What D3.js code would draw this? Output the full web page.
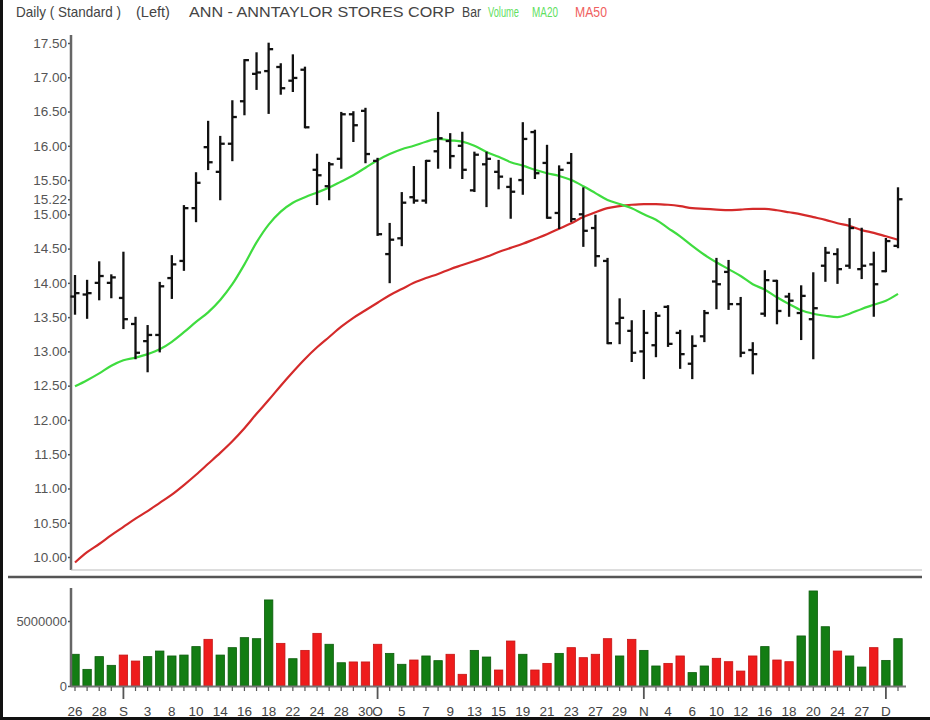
<!DOCTYPE html>
<html>
<head>
<meta charset="utf-8">
<script src="https://cdn.jsdelivr.net/npm/d3@7"></script>
<style>
    body { margin: 0; background: #fff; }
    text { font-family: "Liberation Sans", Arial, sans-serif; }
</style>
</head>
<body>
<div id="chart"></div>
<script>
// data (one entry per trading day)
const opens  = [13.80, 13.83, 14.00, 14.00, 13.78, 13.40, 13.15, 13.24, 14.07, 14.32,
                15.09, 15.98, 15.62, 16.03, 16.65, 17.05, 17.09, 17.15, 16.95, 17.11,
                15.65, 15.41, 15.81, 16.46, 16.51, 15.78, 14.42, 14.65, 15.25, 15.20,
                15.92, 16.07, 16.00, 15.35, 15.73, 15.62, 15.40, 15.50, 16.20, 15.75,
                15.02, 15.75, 15.00, 14.80, 14.32, 13.41, 13.30, 13.00, 13.09, 13.65,
                13.27, 12.82, 13.22, 14.02, 14.16, 13.69, 13.02, 13.55, 14.03, 13.80,
                13.56, 13.47, 14.25, 14.42, 14.25, 14.20, 14.27, 14.17, 14.54];
const highs  = [14.10, 14.03, 14.30, 14.11, 14.44, 13.49, 13.37, 14.00, 14.39, 15.12,
                15.60, 16.35, 16.13, 16.65, 17.25, 17.35, 17.49, 17.19, 17.32, 17.14,
                15.87, 15.75, 16.48, 16.49, 16.54, 15.81, 14.86, 15.31, 15.69, 15.78,
                16.48, 16.17, 16.19, 15.90, 15.90, 15.78, 15.52, 16.33, 16.22, 16.00,
                15.70, 15.88, 15.38, 14.98, 14.35, 13.76, 13.44, 13.59, 13.56, 13.66,
                13.30, 13.22, 13.59, 14.35, 14.32, 13.78, 13.12, 14.17, 14.03, 13.84,
                13.95, 14.14, 14.51, 14.49, 14.93, 14.79, 14.44, 14.64, 15.38];
const lows   = [13.55, 13.49, 13.76, 13.79, 13.34, 12.90, 12.71, 13.00, 13.78, 14.19,
                14.90, 15.66, 15.22, 15.79, 16.46, 16.83, 16.48, 16.76, 16.80, 16.27,
                15.15, 15.22, 15.68, 16.07, 15.76, 14.70, 14.01, 14.55, 15.17, 15.17,
                15.68, 15.68, 15.53, 15.34, 15.12, 15.38, 14.95, 15.30, 15.53, 14.95,
                14.80, 14.90, 14.54, 14.25, 13.12, 13.12, 12.86, 12.61, 12.93, 13.08,
                12.76, 12.61, 13.15, 13.63, 13.62, 12.93, 12.68, 13.52, 13.41, 13.52,
                13.18, 12.90, 14.03, 14.00, 14.22, 14.07, 13.52, 14.17, 14.52];
const closes = [13.85, 13.85, 14.10, 14.08, 13.47, 12.98, 13.24, 13.95, 14.27, 15.09,
                15.46, 15.76, 16.03, 16.42, 17.25, 17.07, 17.41, 16.84, 16.99, 16.27,
                15.57, 15.73, 16.46, 16.30, 15.88, 14.71, 14.63, 15.17, 15.20, 15.78,
                16.11, 15.85, 15.65, 15.87, 15.81, 15.55, 15.33, 16.10, 15.60, 14.95,
                15.65, 14.93, 14.76, 14.39, 13.12, 13.49, 12.98, 13.27, 13.52, 13.11,
                12.96, 13.08, 13.56, 13.98, 13.69, 12.98, 12.96, 14.04, 13.59, 13.74,
                13.81, 13.63, 14.44, 14.20, 14.80, 14.25, 13.98, 14.61, 15.22];
const volumes = [2440000, 1280000, 2260000, 1590000, 2380000, 1920000, 2260000, 2690000, 2310000, 2380000,
                 3030000, 3590000, 2380000, 2950000, 3720000, 3640000, 6620000, 3280000, 2100000, 2740000,
                 4050000, 3210000, 1790000, 1850000, 1850000, 3210000, 2510000, 1670000, 2000000, 2310000,
                 1950000, 2440000, 900000, 2740000, 2230000, 1230000, 3460000, 2440000, 1230000, 1740000,
                 2510000, 2950000, 2180000, 2440000, 3640000, 2310000, 3590000, 2740000, 1540000, 1740000,
                 2310000, 1030000, 1540000, 2130000, 1870000, 1150000, 2310000, 3030000, 2000000, 1870000,
                 3850000, 7310000, 4560000, 2690000, 2310000, 1460000, 2950000, 1970000, 3640000];
const ma20 = [12.49, 12.58, 12.68, 12.79, 12.87, 12.91, 12.96, 13.03, 13.14, 13.28,
              13.43, 13.57, 13.75, 13.98, 14.27, 14.59, 14.85, 15.04, 15.17, 15.25,
              15.32, 15.39, 15.48, 15.57, 15.68, 15.79, 15.88, 15.95, 16.00, 16.06,
              16.10, 16.08, 16.06, 16.00, 15.91, 15.84, 15.76, 15.71, 15.65, 15.60,
              15.56, 15.50, 15.41, 15.31, 15.21, 15.15, 15.09, 15.00, 14.92, 14.80,
              14.68, 14.54, 14.41, 14.30, 14.20, 14.10, 13.98, 13.90, 13.79, 13.69,
              13.60, 13.55, 13.52, 13.50, 13.55, 13.62, 13.68, 13.74, 13.84];
const ma50 = [9.92, 10.07, 10.19, 10.32, 10.44, 10.56, 10.67, 10.79, 10.91, 11.05,
              11.20, 11.36, 11.52, 11.69, 11.88, 12.09, 12.29, 12.50, 12.70, 12.89,
              13.06, 13.21, 13.36, 13.49, 13.60, 13.71, 13.82, 13.91, 14.00, 14.07,
              14.13, 14.20, 14.26, 14.32, 14.38, 14.45, 14.51, 14.57, 14.64, 14.71,
              14.79, 14.87, 14.96, 15.03, 15.09, 15.12, 15.14, 15.15, 15.15, 15.14,
              15.12, 15.09, 15.08, 15.07, 15.06, 15.07, 15.08, 15.08, 15.06, 15.03,
              15.00, 14.96, 14.92, 14.87, 14.83, 14.77, 14.73, 14.68, 14.63];

// x-axis labels and the bar they sit under
const dateLabels = ["26", "28", "S", "3", "8", "10", "14", "16", "18", "22", "24", "28", "30", "O",
                    "5", "7", "9", "13", "15", "19", "21", "23", "27", "29", "N",
                    "4", "6", "10", "12", "16", "18", "20", "24", "27", "D"];
const dateLabelIdx = [0, 2, 4, 6, 8, 10, 12, 14, 16, 18, 20, 22, 24, 25,
                      27, 29, 31, 33, 35, 37, 39, 41, 43, 45, 47,
                      49, 51, 53, 55, 57, 59, 61, 63, 65, 67];
const monthIdx = [4, 25, 47, 67];
const priceTicks = [17.5, 17, 16.5, 16, 15.5, 15.22, 15, 14.5, 14, 13.5, 13, 12.5, 12, 11.5, 11, 10.5, 10];
const volumeTicks = [0, 5000000];

const svgWidth = 930,
    svgHeight = 720;

const bars = opens.map((o, i) => ({ i: i, o: o, h: highs[i], l: lows[i], c: closes[i], v: volumes[i] }));

let svg = d3.select("#chart").append("svg")
    .attr("width", svgWidth)
    .attr("height", svgHeight);

svg.append("rect").attr("width", svgWidth).attr("height", svgHeight).attr("fill", "#fff");

// scales
let xScale = d3.scaleLinear()
    .domain([0, bars.length - 1])
    .range([75, 898]);
let yPrice = d3.scaleLinear()
    .domain([10, 17.5])
    .range([557, 43]);
let yVol = d3.scaleLinear()
    .domain([0, 5000000])
    .range([686, 621]);

// header (the original text is squeezed sideways, so scale each piece to its width)
const header = [
    { t: "Daily ( Standard )", x: 16, w: 105, c: "#444" },
    { t: "(Left)", x: 136, w: 34, c: "#444" },
    { t: "ANN - ANNTAYLOR STORES CORP", x: 189, w: 266, c: "#444" },
    { t: "Bar", x: 462, w: 19, c: "#444" },
    { t: "Volume", x: 488, w: 31, c: "#5fe05f" },
    { t: "MA20", x: 532, w: 26, c: "#5fe05f" },
    { t: "MA50", x: 575, w: 32, c: "#f06060" }
];
svg.append("g").selectAll("text")
    .data(header)
    .join("text")
    .attr("font-size", 14)
    .attr("fill", (d) => d.c)
    .text((d) => d.t)
    .attr("transform", function (d) {
        let len = this.getComputedTextLength();
        return `translate(${d.x},17) scale(${d.w / len},1)`;
    });

// price panel axis
let yAxisPrice = svg.append("g")
    .attr("transform", "translate(71,0)")
    .call(d3.axisLeft(yPrice).tickValues(priceTicks).tickFormat(d3.format(".2f")).tickSize(3).tickPadding(1));
yAxisPrice.select(".domain").remove();
yAxisPrice.selectAll("line").attr("stroke", "#555").attr("stroke-width", 1.5);
yAxisPrice.selectAll("text")
    .attr("font-size", 13.5)
    .attr("fill", "#555")
    .attr("font-family", "Liberation Sans, Arial, sans-serif");

svg.append("line")
    .attr("x1", 71).attr("x2", 71).attr("y1", 35).attr("y2", 570)
    .attr("stroke", "#666").attr("stroke-width", 2.5);
svg.append("line")
    .attr("x1", 71).attr("x2", 922).attr("y1", 570).attr("y2", 570)
    .attr("stroke", "#bbb").attr("stroke-width", 1);
svg.append("line")
    .attr("x1", 8).attr("x2", 922).attr("y1", 577).attr("y2", 577)
    .attr("stroke", "#555").attr("stroke-width", 2.5);

// moving averages
let maLine = d3.line()
    .x((d, i) => xScale(i))
    .y((d) => yPrice(d))
    .curve(d3.curveMonotoneX);
svg.append("path")
    .datum(ma50)
    .attr("d", maLine)
    .attr("fill", "none")
    .attr("stroke", "#d42a2a")
    .attr("stroke-width", 2.2);
svg.append("path")
    .datum(ma20)
    .attr("d", maLine)
    .attr("fill", "none")
    .attr("stroke", "#3fdc3f")
    .attr("stroke-width", 2.2);

// OHLC bars
let barG = svg.append("g")
    .attr("stroke", "#111")
    .attr("stroke-width", 2.3);
barG.selectAll(".hl")
    .data(bars)
    .join("line")
    .attr("class", "hl")
    .attr("x1", (d) => xScale(d.i)).attr("x2", (d) => xScale(d.i))
    .attr("y1", (d) => yPrice(d.h) - 1).attr("y2", (d) => yPrice(d.l) + 1);
barG.selectAll(".op")
    .data(bars)
    .join("line")
    .attr("class", "op")
    .attr("x1", (d) => xScale(d.i) - 4.5).attr("x2", (d) => xScale(d.i))
    .attr("y1", (d) => yPrice(d.o)).attr("y2", (d) => yPrice(d.o));
barG.selectAll(".cl")
    .data(bars)
    .join("line")
    .attr("class", "cl")
    .attr("x1", (d) => xScale(d.i)).attr("x2", (d) => xScale(d.i) + 4.5)
    .attr("y1", (d) => yPrice(d.c)).attr("y2", (d) => yPrice(d.c));

// volume panel
let yAxisVol = svg.append("g")
    .attr("transform", "translate(71,0)")
    .call(d3.axisLeft(yVol).tickValues(volumeTicks).tickFormat(d3.format("d")).tickSize(3).tickPadding(1));
yAxisVol.select(".domain").remove();
yAxisVol.selectAll("line").attr("stroke", "#555").attr("stroke-width", 1.5);
yAxisVol.selectAll("text")
    .attr("font-size", 13)
    .attr("fill", "#555")
    .attr("font-family", "Liberation Sans, Arial, sans-serif");

svg.append("g").selectAll("rect")
    .data(bars)
    .join("rect")
    .attr("x", (d) => xScale(d.i) - 4.2)
    .attr("y", (d) => yVol(d.v))
    .attr("width", 8.4)
    .attr("height", (d) => yVol(0) - yVol(d.v))
    .attr("fill", (d) => d.c >= d.o ? "#137d13" : "#ee1c1c")
    .attr("stroke", (d) => d.c >= d.o ? "#0c5c0c" : "#c41414")
    .attr("stroke-width", 0.8);

svg.append("line")
    .attr("x1", 71).attr("x2", 71).attr("y1", 588).attr("y2", 687)
    .attr("stroke", "#666").attr("stroke-width", 2.5);
svg.append("line")
    .attr("x1", 71).attr("x2", 906).attr("y1", 686.5).attr("y2", 686.5)
    .attr("stroke", "#777").attr("stroke-width", 2);

// date ticks and labels
svg.append("g").selectAll("line")
    .data(bars)
    .join("line")
    .attr("x1", (d) => xScale(d.i)).attr("x2", (d) => xScale(d.i))
    .attr("y1", 687)
    .attr("y2", (d) => monthIdx.includes(d.i) ? 699 : 691)
    .attr("stroke", "#555")
    .attr("stroke-width", (d) => monthIdx.includes(d.i) ? 1.8 : 1.2);

svg.append("g").selectAll("text")
    .data(dateLabels)
    .join("text")
    .attr("x", (d, k) => xScale(dateLabelIdx[k]))
    .attr("y", 716)
    .attr("text-anchor", "middle")
    .attr("font-size", 13.5)
    .attr("fill", "#444")
    .text((d) => d);

// dark frame on the left and bottom edges
svg.append("rect").attr("x", 0).attr("y", 0).attr("width", 3).attr("height", svgHeight).attr("fill", "#111");
svg.append("rect").attr("x", 0).attr("y", 717).attr("width", svgWidth).attr("height", 3).attr("fill", "#111");
</script>
</body>
</html>
